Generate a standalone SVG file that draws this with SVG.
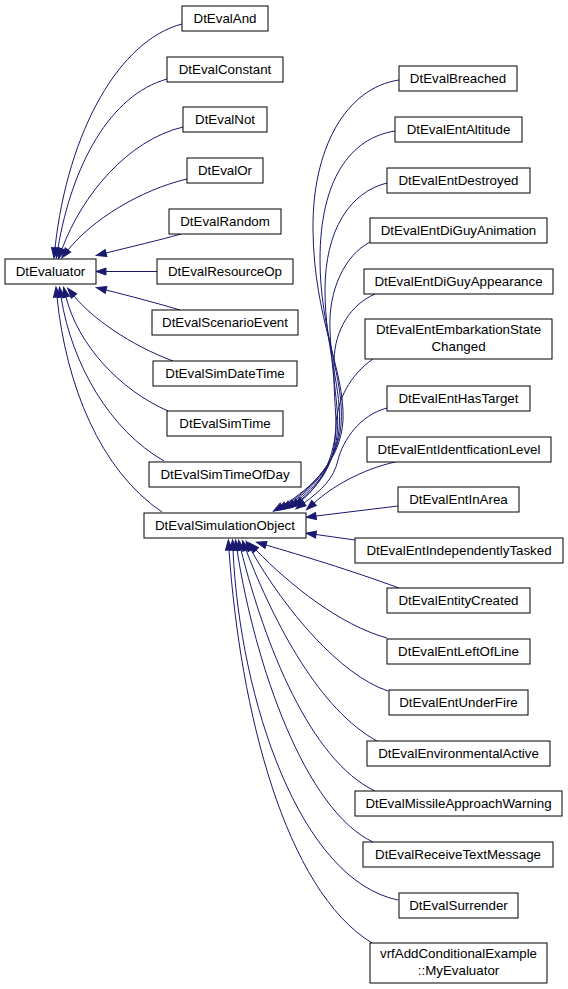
<svg xmlns="http://www.w3.org/2000/svg" width="568" height="989" viewBox="0 0 568 989">
<style>
.n rect{fill:#fff;stroke:#000;stroke-width:1}
.n text{font-family:"Liberation Sans",Arial,sans-serif;font-size:13.33px;text-anchor:middle;fill:#000}
#edges path{fill:none;stroke:#191970;stroke-width:1;marker-end:url(#ah)}
</style>
<defs>
<marker id="ah" markerUnits="userSpaceOnUse" markerWidth="11" markerHeight="8" refX="0" refY="3.5" orient="auto" overflow="visible">
<path d="M0,0 L10,3.5 L0,7 z" fill="#191970" stroke="#191970" stroke-width="1"/>
</marker>
</defs>
<rect width="568" height="989" fill="#fff"/>
<g id="edges">
<path d="M182,24 C120,40 68,130 55,248"/>
<path d="M167,79 C110,95 72,165 58,248"/>
<path d="M183,127 C128,140 82,195 62,249"/>
<path d="M187,179 C140,190 92,220 68,250"/>
<path d="M181,234 C160,240 130,247 106,253"/>
<path d="M157,271.5 L106,271.5"/>
<path d="M180,310 C160,304 130,296 106,290"/>
<path d="M173,361 C130,345 92,318 74,296"/>
<path d="M168,411 C120,390 78,345 66,297"/>
<path d="M164,461 C110,430 72,365 61,297"/>
<path d="M162,512 C100,470 66,385 57,297"/>
<path d="M399,80 C345,88 312,150 313,230 C314,320 345,370 343,420 C341,460 312,488 282,506"/>
<path d="M395,131 C350,138 320,180 320,260 C320,330 345,380 341,425 C338,460 314,487 286,505"/>
<path d="M387,183 C350,192 325,230 325,290 C325,350 343,390 339,430 C336,462 316,486 290,504"/>
<path d="M370,242 C345,255 328,290 330,330 C332,380 340,410 337,435 C334,465 318,486 294,503"/>
<path d="M375,294 C350,305 335,330 334,360 C333,400 338,420 335,440 C332,468 319,486 298,502"/>
<path d="M373,359 C350,375 337,400 336,425 C335,455 322,484 302,500"/>
<path d="M387,408 C360,415 343,440 338,460 C334,478 322,490 304,503"/>
<path d="M395,462 C360,470 332,487 314,503"/>
<path d="M398,506 L316,516"/>
<path d="M355,540 L316,534.5"/>
<path d="M399,588 C350,570 300,555 266,545"/>
<path d="M387,638 C340,625 290,585 256,550"/>
<path d="M388,691 C340,675 285,610 251,550"/>
<path d="M377,741 C320,710 275,625 246,550"/>
<path d="M375,791 C310,760 265,645 241,550"/>
<path d="M373,842 C305,810 255,665 237,550"/>
<path d="M398,900 C300,880 240,700 233,550"/>
<path d="M372,943 C285,890 240,710 229,550"/>
</g>
<g id="DtEvaluator" class="n"><rect x="5" y="259" width="91" height="25"/><text x="50.5" y="276">DtEvaluator</text></g>
<g id="DtEvalAnd" class="n"><rect x="182" y="6" width="86" height="25"/><text x="225" y="23">DtEvalAnd</text></g>
<g id="DtEvalConstant" class="n"><rect x="167" y="57" width="116" height="25"/><text x="225" y="74">DtEvalConstant</text></g>
<g id="DtEvalNot" class="n"><rect x="183" y="107" width="84" height="25"/><text x="225" y="124">DtEvalNot</text></g>
<g id="DtEvalOr" class="n"><rect x="187" y="158" width="76" height="25"/><text x="225" y="175">DtEvalOr</text></g>
<g id="DtEvalRandom" class="n"><rect x="169" y="209" width="112" height="25"/><text x="225" y="226">DtEvalRandom</text></g>
<g id="DtEvalResourceOp" class="n"><rect x="157" y="259" width="136" height="25"/><text x="225" y="276">DtEvalResourceOp</text></g>
<g id="DtEvalScenarioEvent" class="n"><rect x="152" y="310" width="146" height="25"/><text x="225" y="327">DtEvalScenarioEvent</text></g>
<g id="DtEvalSimDateTime" class="n"><rect x="153" y="361" width="144" height="25"/><text x="225" y="378">DtEvalSimDateTime</text></g>
<g id="DtEvalSimTime" class="n"><rect x="167" y="411" width="116" height="25"/><text x="225" y="428">DtEvalSimTime</text></g>
<g id="DtEvalSimTimeOfDay" class="n"><rect x="149" y="462" width="152" height="25"/><text x="225" y="479">DtEvalSimTimeOfDay</text></g>
<g id="DtEvalSimulationObject" class="n"><rect x="144" y="513" width="162" height="25"/><text x="225" y="530">DtEvalSimulationObject</text></g>
<g id="DtEvalBreached" class="n"><rect x="399" y="66" width="118" height="25"/><text x="458" y="83">DtEvalBreached</text></g>
<g id="DtEvalEntAltitude" class="n"><rect x="395" y="117" width="127" height="25"/><text x="458.5" y="134">DtEvalEntAltitude</text></g>
<g id="DtEvalEntDestroyed" class="n"><rect x="387" y="168" width="143" height="25"/><text x="458.5" y="185">DtEvalEntDestroyed</text></g>
<g id="DtEvalEntDiGuyAnimation" class="n"><rect x="370" y="218" width="177" height="25"/><text x="458.5" y="235">DtEvalEntDiGuyAnimation</text></g>
<g id="DtEvalEntDiGuyAppearance" class="n"><rect x="364" y="269" width="189" height="25"/><text x="458.5" y="286">DtEvalEntDiGuyAppearance</text></g>
<g id="DtEvalEntEmbarkationStateChanged" class="n"><rect x="365" y="319" width="187" height="40"/><text x="458.5" y="334">DtEvalEntEmbarkationState</text><text x="458.5" y="351">Changed</text></g>
<g id="DtEvalEntHasTarget" class="n"><rect x="387" y="386" width="143" height="25"/><text x="458.5" y="403">DtEvalEntHasTarget</text></g>
<g id="DtEvalEntIdentficationLevel" class="n"><rect x="367" y="437" width="184" height="25"/><text x="459" y="454">DtEvalEntIdentficationLevel</text></g>
<g id="DtEvalEntInArea" class="n"><rect x="398" y="487" width="121" height="25"/><text x="458.5" y="504">DtEvalEntInArea</text></g>
<g id="DtEvalEntIndependentlyTasked" class="n"><rect x="355" y="538" width="208" height="25"/><text x="459" y="555">DtEvalEntIndependentlyTasked</text></g>
<g id="DtEvalEntityCreated" class="n"><rect x="387" y="588" width="143" height="25"/><text x="458.5" y="605">DtEvalEntityCreated</text></g>
<g id="DtEvalEntLeftOfLine" class="n"><rect x="387" y="639" width="143" height="25"/><text x="458.5" y="656">DtEvalEntLeftOfLine</text></g>
<g id="DtEvalEntUnderFire" class="n"><rect x="389" y="690" width="139" height="25"/><text x="458.5" y="707">DtEvalEntUnderFire</text></g>
<g id="DtEvalEnvironmentalActive" class="n"><rect x="367" y="741" width="183" height="25"/><text x="458.5" y="758">DtEvalEnvironmentalActive</text></g>
<g id="DtEvalMissileApproachWarning" class="n"><rect x="355" y="791" width="207" height="25"/><text x="458.5" y="808">DtEvalMissileApproachWarning</text></g>
<g id="DtEvalReceiveTextMessage" class="n"><rect x="363" y="842" width="190" height="25"/><text x="458" y="859">DtEvalReceiveTextMessage</text></g>
<g id="DtEvalSurrender" class="n"><rect x="399" y="893" width="119" height="25"/><text x="458.5" y="910">DtEvalSurrender</text></g>
<g id="vrfAddConditionalExample_MyEvaluator" class="n"><rect x="370" y="943" width="177" height="40"/><text x="458.5" y="958">vrfAddConditionalExample</text><text x="458.5" y="975">::MyEvaluator</text></g>
</svg>
